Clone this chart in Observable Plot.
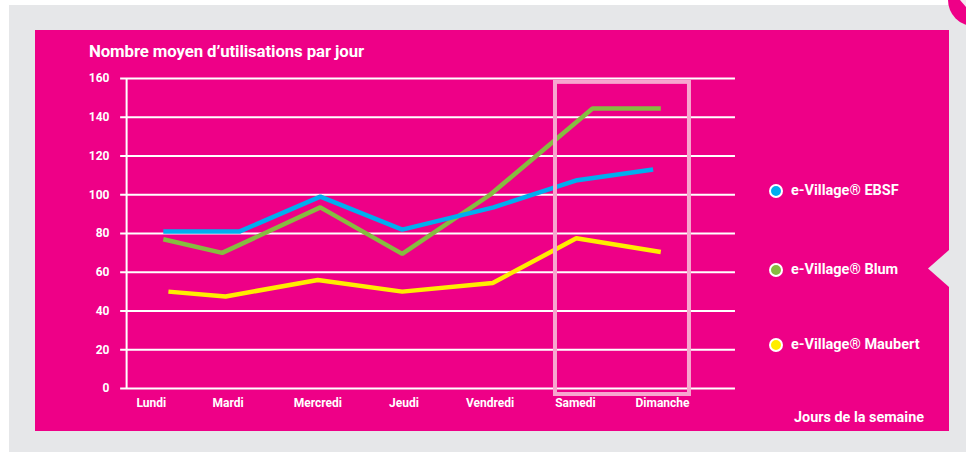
<!DOCTYPE html>
<html lang="fr">
<head>
<meta charset="utf-8">
<script src="https://cdn.jsdelivr.net/npm/d3@7"></script>
<script src="https://cdn.jsdelivr.net/npm/@observablehq/plot@0.6"></script>
<style>
html,body{margin:0;padding:0;background:#fff;width:966px;height:452px;overflow:hidden}
body{position:relative;font-family:Roboto,sans-serif;font-weight:700;color:#fff}
.abs{position:absolute}
#gray{left:9px;top:5px;width:957px;height:447px;background:#e6e7e9}
#pink{left:35px;top:30px;width:914px;height:401px;background:#ee0087}
#notch{left:928px;top:250px;width:21px;height:37px;background:#e6e7e9;clip-path:polygon(100% 0,0 50%,100% 100%)}
#corner{left:948px;top:-26px;width:52px;height:52px;border-radius:50%;background:#ee0087}
#cornerTri{left:960px;top:0;width:12px;height:7px;background:#f4e4ee;clip-path:polygon(0 0,100% 0,50% 100%)}
#chart{left:0;top:0}
#chart svg{display:block;background:transparent}
#title{left:89px;top:41px;font-size:16.8px;line-height:20px;white-space:nowrap;letter-spacing:-.1px}
#xtitle{left:794px;top:409px;font-size:14.4px;line-height:18px;white-space:nowrap}
.leg{left:769px;display:flex;align-items:center;font-size:14.5px;line-height:16px;white-space:nowrap}
.leg i{display:block;box-sizing:border-box;width:14px;height:14px;border:2px solid #fff;border-radius:50%;margin-right:8px}
</style>
</head>
<body>
<div class="abs" id="gray"></div>
<div class="abs" id="pink"></div>
<div class="abs" id="notch"></div>
<div class="abs" id="corner"></div>
<div class="abs" id="cornerTri"></div>
<div class="abs" id="chart"></div>
<div class="abs" id="title">Nombre moyen d’utilisations par jour</div>
<div class="abs" id="xtitle">Jours de la semaine</div>
<div id="legend"></div>
<script>
const jours = ["Lundi","Mardi","Mercredi","Jeudi","Vendredi","Samedi","Dimanche"];
const joursPos = [0.01,0.91,1.96,2.97,3.98,4.98,6.0];
const yTicks = [0,20,40,60,80,100,120,140,160];

const ebsfX = [0.15,1.04,1.99,2.95,4.02,5.0,5.89];
const ebsfY = [81,81,99,82,93.5,107.5,113];
const blumX = [0.15,0.84,1.99,2.95,3.98,5.18,5.98];
const blumY = [77,70,93.5,69.5,100,144.5,144.5];
const maubertX = [0.21,0.88,1.96,2.95,4.01,4.99,5.98];
const maubertY = [50,47.5,56,50,54.5,77.5,70.5];

const series = [
  {name:"e-Village® Maubert", xs:maubertX, ys:maubertY, color:"#ffed00", legendTop:337},
  {name:"e-Village® Blum", xs:blumX, ys:blumY, color:"#86bc40", legendTop:262},
  {name:"e-Village® EBSF", xs:ebsfX, ys:ebsfY, color:"#00aeef", legendTop:183}
];
const highlight = [{x1:4.746,x2:6.316,y1:-3.1,y2:158}];
const gridSpan = {from:-0.35,to:6.855,axisX:-0.28};

const rows = series.flatMap(s => s.xs.map((x,i)=>({name:s.name,x,y:s.ys[i],color:s.color})));

const plot = Plot.plot({
  width:966,height:452,
  marginLeft:126,marginRight:0,marginTop:78,marginBottom:64,
  style:{background:"transparent",color:"#fff",fontFamily:"Roboto,sans-serif",fontWeight:700,fontSize:"12px",overflow:"visible"},
  x:{type:"linear",domain:[0,6],range:[150,662],label:null},
  y:{domain:[0,160],range:[388,78],label:null},
  marks:[
    Plot.ruleY(yTicks,{x1:gridSpan.from,x2:gridSpan.to,stroke:"#fff",strokeWidth:2}),
    Plot.ruleX([gridSpan.axisX],{y1:0,y2:160,stroke:"#fff",strokeWidth:2}),
    Plot.line(rows,{x:"x",y:"y",z:"name",stroke:"color",strokeWidth:4.5,curve:"linear",strokeLinejoin:"miter",strokeLinecap:"butt"}),
    Plot.rect(highlight,{x1:"x1",x2:"x2",y1:"y1",y2:"y2",fill:"none",stroke:"#f7a6cf",strokeWidth:4}),
    Plot.axisY({ticks:yTicks,tickSize:0,tickPadding:17,label:null,fill:"#fff",fontSize:12}),
    Plot.axisX({ticks:joursPos,tickFormat:p=>jours[joursPos.indexOf(p)],tickSize:0,tickPadding:10,label:null,fill:"#fff",fontSize:12})
  ]
});
document.getElementById("chart").appendChild(plot);

const legend = document.getElementById("legend");
for (const s of series){
  const d=document.createElement("div");
  d.className="abs leg";
  d.style.top=s.legendTop+"px";
  const dot=document.createElement("i");
  dot.style.background=s.color;
  d.appendChild(dot);
  d.appendChild(document.createTextNode(s.name));
  legend.appendChild(d);
}
</script>
</body>
</html>
